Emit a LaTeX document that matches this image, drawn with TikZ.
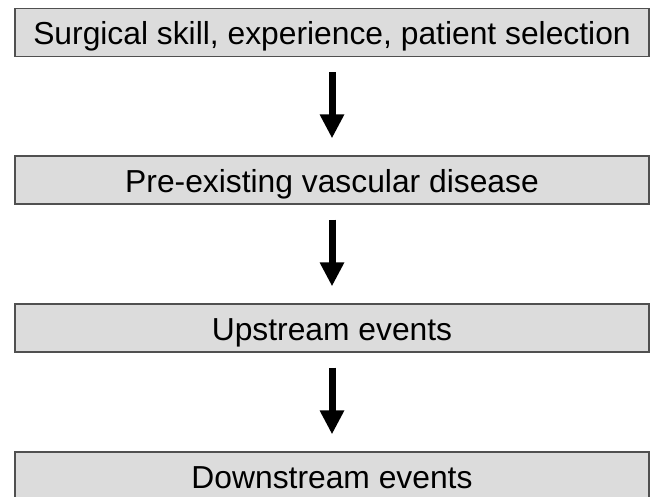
\documentclass[tikz,border=0pt]{standalone}
\usepackage{fontspec}
\setmainfont{Liberation Sans}
\usetikzlibrary{arrows.meta}
\definecolor{boxfill}{HTML}{DCDCDC}
\definecolor{boxline}{HTML}{505050}
\begin{document}
\begin{tikzpicture}[x=1pt,y=-1pt,
  flowbox/.style={draw=boxline,line width=1.3pt,fill=boxfill,minimum width=634pt,minimum height=48pt,inner sep=0pt,text height=25pt,text depth=0pt,font=\fontsize{31.8}{36}\selectfont,text=black,anchor=center},
  bigarrow/.style={line width=7pt,-{Triangle[width=23pt,length=24pt]}}]
\useasboundingbox (0,0) rectangle (652,497);
\clip (0,0) rectangle (652,497);
\fill[white] (0,0) rectangle (652,497);
\node[flowbox] (a) at (332,32.5) {Surgical skill, experience, patient selection};
\node[flowbox] (b) at (332,180) {Pre-existing vascular disease};
\node[flowbox] (c) at (332,328) {Upstream events};
\node[flowbox] (d) at (332,476) {Downstream events};
\draw[bigarrow,shorten <=15pt,shorten >=17pt] (a.south) -- (b.north);
\draw[bigarrow,shorten <=15pt,shorten >=17pt] (b.south) -- (c.north);
\draw[bigarrow,shorten <=15pt,shorten >=17pt] (c.south) -- (d.north);
\end{tikzpicture}
\end{document}
